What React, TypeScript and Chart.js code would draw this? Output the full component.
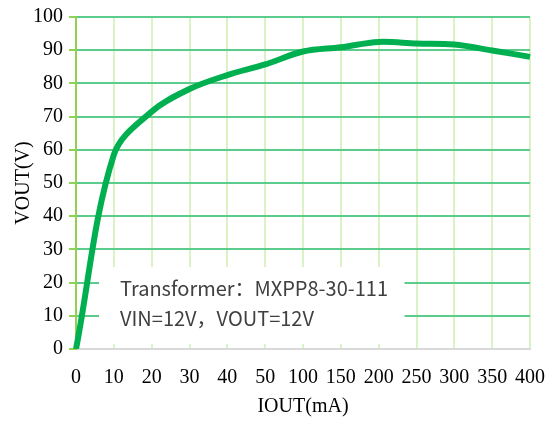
import React, { useEffect, useRef } from "react";
import { Chart, registerables } from "chart.js";

Chart.register(...registerables);

const categories = ["0", "10", "20", "30", "40", "50", "100", "150", "200", "250", "300", "350", "400"];
const voutValues = [0, 58.5, 71.5, 78.3, 82.5, 85.7, 89.6, 90.9, 92.5, 92, 91.7, 89.9, 88];
const yTicks = [0, 10, 20, 30, 40, 50, 60, 70, 80, 90, 100];
const noteLines = ["Transformer：MXPP8-30-111", "VIN=12V，VOUT=12V"];

const serif = "'Liberation Serif', 'Times New Roman', serif";

const notePlugin = {
  id: "noteBox",
  beforeDatasetsDraw(chart: any) {
    const { ctx, scales } = chart;
    const xs = scales.x;
    const ys = scales.y;
    const left = xs.getPixelForValue(0) + 23;
    const right = xs.getPixelForValue(9) - 12;
    const top = ys.getPixelForValue(25) + 1;
    const bottom = ys.getPixelForValue(0) - 5;
    ctx.save();
    ctx.fillStyle = "#ffffff";
    ctx.fillRect(left, top, right - left, bottom - top);
    ctx.fillStyle = "#404040";
    ctx.font = "20px 'Noto Sans CJK SC', 'Noto Sans', sans-serif";
    ctx.textBaseline = "middle";
    ctx.textAlign = "left";
    ctx.fillText(noteLines[0], left + 21, ys.getPixelForValue(18.2));
    ctx.fillText(noteLines[1], left + 21, ys.getPixelForValue(9.2));
    ctx.restore();
  },
};

export default function App() {
  const ref = useRef<HTMLCanvasElement>(null);
  useEffect(() => {
    if (!ref.current) return;
    const chart = new Chart(ref.current, {
      type: "line",
      data: {
        labels: categories,
        datasets: [
          {
            data: voutValues,
            borderColor: "#00b050",
            borderWidth: 6,
            pointRadius: 0,
            tension: 0.35,
            fill: false,
          },
        ],
      },
      options: {
        animation: false,
        responsive: false,
        maintainAspectRatio: false,
        layout: { padding: { left: 0, right: 24, top: 17, bottom: 0 } },
        plugins: { legend: { display: false }, tooltip: { enabled: false } },
        scales: {
          x: {
            type: "category",
            offset: false,
            grid: {
              color: (c: any) => (c.index === 0 ? "rgba(0,0,0,0)" : "#d9f2c6"),
              lineWidth: 2,
              drawTicks: false,
            },
            border: { display: true, color: "#d9d9d9", width: 2 },
            ticks: {
              color: "#000",
              font: { family: serif, size: 20 },
              padding: 17,
              maxRotation: 0,
              autoSkip: false,
            },
            title: {
              display: true,
              text: "IOUT(mA)",
              color: "#000",
              font: { family: serif, size: 20 },
              padding: { top: 2, bottom: 4 },
            },
            afterFit: (s: any) => {
              s.height = 74;
              s.paddingLeft = 0;
              s.paddingRight = 0;
            },
          },
          y: {
            min: 0,
            max: 100,
            afterBuildTicks: (s: any) => {
              s.ticks = yTicks.map((v) => ({ value: v }));
            },
            grid: {
              color: (c: any) => (c.tick && c.tick.value === 0 ? "rgba(0,0,0,0)" : "#5ccc8c"),
              tickColor: "#92d050",
              lineWidth: 2,
              tickLength: 7,
            },
            border: { display: true, color: "#92d050", width: 2 },
            ticks: {
              color: "#000",
              font: { family: serif, size: 20 },
              padding: 6,
            },
            title: {
              display: true,
              text: "VOUT(V)",
              color: "#000",
              font: { family: serif, size: 20 },
              padding: { top: 12, bottom: 0 },
            },
            afterFit: (s: any) => {
              s.width = 76;
              s.paddingTop = 0;
              s.paddingBottom = 0;
            },
          },
        },
      },
      plugins: [notePlugin],
    } as any);
    return () => chart.destroy();
  }, []);
  return (
    <div style={{ position: "absolute", left: 0, top: 0, width: 554, height: 423, background: "#fff" }}>
      <canvas ref={ref} width={554} height={423} style={{ width: 554, height: 423 }} />
    </div>
  );
}
